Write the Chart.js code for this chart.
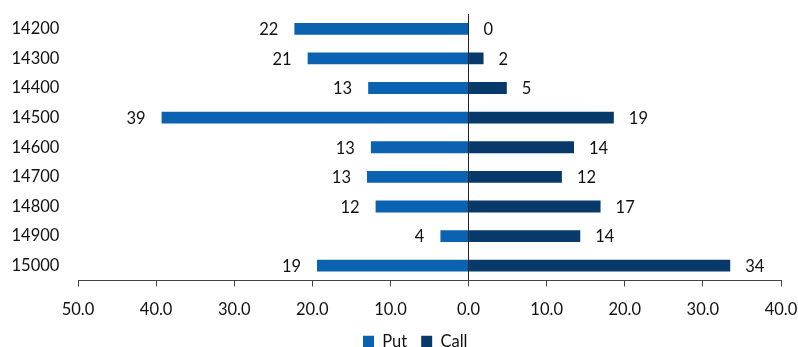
<!DOCTYPE html>
<html>
<head>
<meta charset="utf-8">
<script src="https://cdn.jsdelivr.net/npm/chart.js@4/dist/chart.umd.min.js"></script>
<style>
html,body{margin:0;padding:0;background:#fff;overflow:hidden;}
#wrap{position:relative;width:798px;height:360px;}
</style>
</head>
<body>
<div id="wrap"><canvas id="c"></canvas></div>
<script>
const strikes = ['14200','14300','14400','14500','14600','14700','14800','14900','15000'];
const putValues = [22.3, 20.6, 12.85, 39.3, 12.5, 13.0, 11.9, 3.6, 19.4];
const callValues = [0, 1.92, 4.9, 18.6, 13.5, 11.95, 16.9, 14.3, 33.5];
const xTicks = [-50, -40, -30, -20, -10, 0, 10, 20, 30, 40];

const FONT = 'Lato, "Liberation Sans", sans-serif';
const TXT = '#111';

const valueLabels = {
  id: 'valueLabels',
  afterDatasetsDraw(chart) {
    const ctx = chart.ctx;
    const xs = chart.scales.x;
    ctx.save();
    ctx.font = '16.5px ' + FONT;
    ctx.fillStyle = TXT;
    ctx.textBaseline = 'middle';
    chart.data.datasets.forEach((ds, di) => {
      const meta = chart.getDatasetMeta(di);
      meta.data.forEach((el, i) => {
        const v = ds.data[i];
        const px = xs.getPixelForValue(v);
        const txt = String(Math.round(Math.abs(v)));
        if (v < 0) {
          ctx.textAlign = 'right';
          ctx.fillText(txt, px - 16, el.y + 1);
        } else {
          ctx.textAlign = 'left';
          ctx.fillText(txt, px + 15, el.y + 1);
        }
      });
    });
    ctx.restore();
  }
};

const legendShift = {
  id: 'legendShift',
  afterLayout(chart) {
    const lg = chart.legend;
    if (lg) {
      const pad = lg.options.labels.padding;
      const w = lg.right - lg.left;
      lg.left = 363 - pad;
      lg.right = lg.left + w;
    }
  }
};

new Chart(document.getElementById('c'), {
  type: 'bar',
  data: {
    labels: strikes,
    datasets: [
      { label: 'Put', data: putValues.map(v => -v), backgroundColor: '#0B62B0', barPercentage: 0.4, categoryPercentage: 1 },
      { label: 'Call', data: callValues, backgroundColor: '#073A6B', barPercentage: 0.4, categoryPercentage: 1 }
    ]
  },
  options: {
    indexAxis: 'y',
    responsive: true,
    maintainAspectRatio: false,
    animation: false,
    layout: { padding: { top: 14, right: 17, left: 0, bottom: 0 } },
    scales: {
      x: {
        stacked: true,
        min: -50, max: 40,
        afterBuildTicks(scale) { scale.ticks = xTicks.map(v => ({ value: v })); },
        afterFit(scale) { scale.height = 39; scale.paddingLeft = 0; scale.paddingRight = 0; },
        ticks: {
          padding: 13,
          color: TXT,
          font: { family: FONT, size: 16.5 },
          maxRotation: 0,
          callback: v => Math.abs(v).toFixed(1)
        },
        grid: {
          drawOnChartArea: true,
          color: ctx => (ctx.tick && ctx.tick.value === 0) ? '#222' : 'rgba(0,0,0,0)',
          tickColor: '#444',
          tickLength: 6,
          lineWidth: 1
        },
        border: { display: true, color: '#444', width: 1 }
      },
      y: {
        stacked: true,
        afterFit(scale) { scale.width = 78; scale.paddingTop = 0; scale.paddingBottom = 0; },
        ticks: {
          padding: 18.6,
          color: TXT,
          font: { family: FONT, size: 16.5 }
        },
        grid: { display: false, drawTicks: false },
        border: { display: false }
      }
    },
    plugins: {
      legend: {
        position: 'bottom',
        align: 'start',
        labels: {
          boxWidth: 11,
          boxHeight: 12,
          padding: 14,
          color: TXT,
          font: { family: FONT, size: 16.5 }
        }
      },
      tooltip: { enabled: false }
    }
  },
  plugins: [valueLabels, legendShift]
});
</script>
</body>
</html>
